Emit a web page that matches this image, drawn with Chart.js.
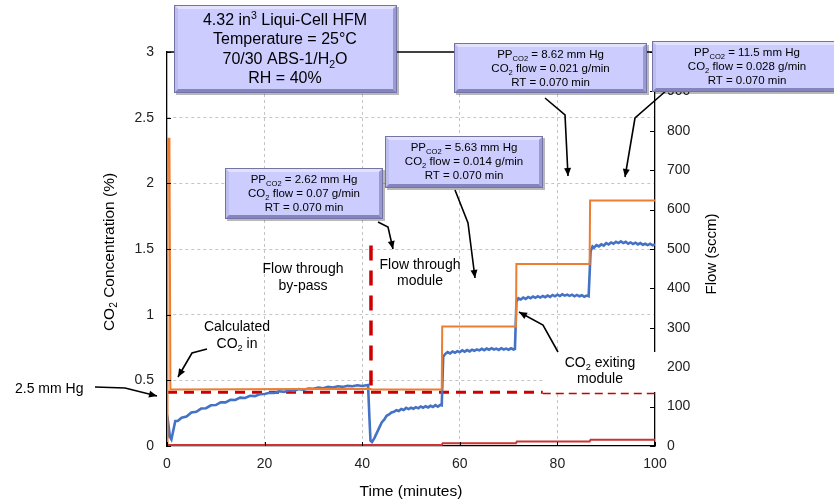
<!DOCTYPE html>
<html>
<head>
<meta charset="utf-8">
<script src="https://cdn.jsdelivr.net/npm/chart.js@4.4.0/dist/chart.umd.min.js"></script>
<style>
  html, body { margin: 0; padding: 0; background: #fff; }
  #wrap { width: 834px; height: 503px; }
</style>
</head>
<body>
<div id="wrap"><canvas id="chart" width="834" height="503"></canvas></div>
<script>
const FONT = '"Liberation Sans", Arial, sans-serif';

// axis ticks
const timeTicks  = [0, 20, 40, 60, 80, 100];
const concTicks  = ["0", "0.5", "1", "1.5", "2", "2.5", "3"];
const flowTicks  = ["0", "100", "200", "300", "400", "500", "600", "700", "800", "900", "1000"];

// series, [time (min), CO2 %]
const co2In = [
  [0, 0.02], [0.1, 2.34], [0.5, 2.34], [0.7, 0.43], [41.5, 0.435], [42, 0.43],
  [56.3, 0.43], [56.4, 0.91], [71.5, 0.91], [71.6, 1.385], [86.6, 1.385], [86.7, 1.87], [100, 1.87]
];
const co2Out = [
  [0, 0.06], [0.3, 0.16], [0.6, 0.07], [0.9, 0.05], [1.3, 0.12], [1.7, 0.19], [2.2, 0.19], [3, 0.215],
  [4, 0.225], [5, 0.255], [6, 0.26], [7, 0.285], [8, 0.288], [9, 0.31], [10, 0.312], [11, 0.333],
  [12, 0.332], [13, 0.352], [14, 0.35], [15, 0.368], [16, 0.366], [17, 0.383], [18, 0.38], [19, 0.394],
  [20, 0.396], [21, 0.405], [22, 0.404], [23, 0.417], [24, 0.412], [25, 0.424], [26, 0.42], [27, 0.433],
  [28, 0.428], [29, 0.438], [30, 0.436], [31, 0.444], [32, 0.44], [33, 0.45], [34, 0.446], [35, 0.455],
  [36, 0.45], [37, 0.458], [38, 0.455], [39, 0.462], [40, 0.457], [41.2, 0.465],
  [41.5, 0.2], [41.7, 0.04], [42, 0.03], [42.5, 0.06], [43, 0.1], [43.5, 0.14], [44, 0.18], [44.5, 0.2],
  [45, 0.23], [45.5, 0.24], [46, 0.255], [46.5, 0.26], [47, 0.272], [47.5, 0.266], [48, 0.281],
  [48.5, 0.274], [49, 0.29], [49.5, 0.281], [50, 0.291], [50.5, 0.284], [51, 0.296], [51.5, 0.287],
  [52, 0.301], [52.5, 0.292], [53, 0.303], [53.5, 0.294], [54, 0.306], [54.5, 0.297], [55, 0.311],
  [55.5, 0.3], [56, 0.313], [56.3, 0.31],
  [56.6, 0.68], [57, 0.7], [57.5, 0.715], [58, 0.705], [58.5, 0.72], [59, 0.71], [59.5, 0.722],
  [60, 0.715], [60.5, 0.728], [61, 0.718], [61.5, 0.73], [62, 0.72], [62.5, 0.733], [63, 0.725],
  [63.5, 0.735], [64, 0.728], [64.5, 0.74], [65, 0.73], [65.5, 0.742], [66, 0.733], [66.5, 0.745],
  [67, 0.735], [67.5, 0.742], [68, 0.732], [68.5, 0.745], [69, 0.735], [69.5, 0.742], [70, 0.733],
  [70.5, 0.744], [71, 0.735], [71.3, 0.74],
  [71.6, 1.1], [72, 1.125], [72.5, 1.115], [73, 1.13], [73.5, 1.12], [74, 1.135], [74.5, 1.125],
  [75, 1.138], [75.5, 1.128], [76, 1.14], [76.5, 1.13], [77, 1.142], [77.5, 1.133], [78, 1.145],
  [78.5, 1.135], [79, 1.15], [79.5, 1.14], [80, 1.152], [80.5, 1.142], [81, 1.155], [81.5, 1.145],
  [82, 1.153], [82.5, 1.143], [83, 1.152], [83.5, 1.14], [84, 1.15], [84.5, 1.14], [85, 1.148],
  [85.5, 1.137], [86, 1.145], [86.4, 1.14],
  [86.8, 1.48], [87.2, 1.52], [87.5, 1.51], [88, 1.53], [88.5, 1.52], [89, 1.535], [89.5, 1.525],
  [90, 1.545], [90.5, 1.535], [91, 1.55], [91.5, 1.54], [92, 1.555], [92.5, 1.545], [93, 1.558],
  [93.5, 1.545], [94, 1.555], [94.5, 1.54], [95, 1.55], [95.5, 1.538], [96, 1.548], [96.5, 1.535],
  [97, 1.545], [97.5, 1.532], [98, 1.54], [98.5, 1.53], [99, 1.54], [99.5, 1.528], [100, 1.535]
];
const bottomFlow = [
  [0, 0.008], [56.3, 0.008], [56.5, 0.021], [71.5, 0.021], [71.7, 0.034], [86.6, 0.034], [86.8, 0.047], [100, 0.047]
];
const pp25Thick = [[0, 0.41], [77, 0.41]];
const pp25Thin  = [[77, 0.40], [100, 0.40]];
const switchOver = [[41.8, 0.46], [41.8, 1.6]];

const pts = arr => arr.map(p => ({ x: p[0], y: p[1] }));

// text with _{sub} and ^{sup}
function rich(ctx, str, cx, cy, size, align) {
  const parts = [];
  const re = /([_^])\{([^}]*)\}|([^_^]+)/g;
  let m;
  while ((m = re.exec(str))) {
    if (m[3]) parts.push({ t: m[3], k: "" });
    else parts.push({ t: m[2], k: m[1] === "_" ? "sub" : "sup" });
  }
  let total = 0;
  parts.forEach(p => {
    p.s = p.k ? size * 0.66 : size;
    ctx.font = `${p.s}px ${FONT}`;
    p.w = ctx.measureText(p.t).width;
    total += p.w;
  });
  let x = align === "left" ? cx : cx - total / 2;
  ctx.textAlign = "left";
  ctx.textBaseline = "middle";
  parts.forEach(p => {
    ctx.font = `${p.s}px ${FONT}`;
    const dy = p.k === "sub" ? size * 0.3 : p.k === "sup" ? -size * 0.33 : 0;
    ctx.fillText(p.t, x, cy + dy);
    x += p.w;
  });
}

function bevelBox(ctx, x, y, w, h) {
  const b = 4;
  ctx.save();
  ctx.fillStyle = "rgba(0,0,0,0.28)";
  ctx.fillRect(x + 2, y + 2, w, h);
  ctx.fillStyle = "#ccccff";
  ctx.fillRect(x, y, w, h);
  const poly = (pts, c) => {
    ctx.fillStyle = c;
    ctx.beginPath();
    pts.forEach((p, i) => i ? ctx.lineTo(p[0], p[1]) : ctx.moveTo(p[0], p[1]));
    ctx.closePath();
    ctx.fill();
  };
  poly([[x, y], [x + w, y], [x + w - b, y + b], [x + b, y + b]], "#e2e2ff");
  poly([[x, y], [x + b, y + b], [x + b, y + h - b], [x, y + h]], "#bdbdf0");
  poly([[x + w, y], [x + w, y + h], [x + w - b, y + h - b], [x + w - b, y + b]], "#9a9ad2");
  poly([[x, y + h], [x + w, y + h], [x + w - b, y + h - b], [x + b, y + h - b]], "#8585bd");
  ctx.strokeStyle = "#7373a8";
  ctx.lineWidth = 1;
  ctx.strokeRect(x + 0.5, y + 0.5, w - 1, h - 1);
  ctx.restore();
}

function arrow(ctx, path) {
  ctx.save();
  ctx.strokeStyle = "#000";
  ctx.fillStyle = "#000";
  ctx.lineWidth = 1.6;
  ctx.beginPath();
  path.forEach((p, i) => i ? ctx.lineTo(p[0], p[1]) : ctx.moveTo(p[0], p[1]));
  ctx.stroke();
  const [x1, y1] = path[path.length - 2];
  const [x2, y2] = path[path.length - 1];
  const a = Math.atan2(y2 - y1, x2 - x1);
  const L = 8, W = 3.5;
  ctx.beginPath();
  ctx.moveTo(x2, y2);
  ctx.lineTo(x2 - L * Math.cos(a) + W * Math.sin(a), y2 - L * Math.sin(a) - W * Math.cos(a));
  ctx.lineTo(x2 - L * Math.cos(a) - W * Math.sin(a), y2 - L * Math.sin(a) + W * Math.cos(a));
  ctx.closePath();
  ctx.fill();
  ctx.restore();
}

const decor = {
  id: "decor",
  afterDraw(chart) {
    const ctx = chart.ctx;
    const { left, right, top, bottom } = chart.chartArea;
    const sx = chart.scales.x, sy = chart.scales.y, sf = chart.scales.y1;
    ctx.save();
    // frame top + inner tick marks
    ctx.strokeStyle = "#000";
    ctx.lineWidth = 1.3;
    ctx.beginPath();
    ctx.moveTo(left, top); ctx.lineTo(right, top);
    ctx.stroke();
    ctx.lineWidth = 1;
    ctx.beginPath();
    concTicks.forEach(t => { const py = Math.round(sy.getPixelForValue(+t)) + 0.5; ctx.moveTo(left, py); ctx.lineTo(left + 4, py); });
    flowTicks.forEach(t => { const py = Math.round(sf.getPixelForValue(+t)) + 0.5; ctx.moveTo(right - 5, py); ctx.lineTo(right, py); });
    timeTicks.forEach(t => { const px = Math.round(sx.getPixelForValue(t)) + 0.5; ctx.moveTo(px, bottom - 4); ctx.lineTo(px, bottom); });
    ctx.stroke();

    // white label patch
    ctx.fillStyle = "#fff";
    ctx.fillRect(543, 352, 120, 40);

    ctx.fillStyle = "#000";
    // axis titles
    rich(ctx, "Time (minutes)", (left + right) / 2, 492, 15.5);
    ctx.save();
    ctx.translate(110, 252); ctx.rotate(-Math.PI / 2);
    rich(ctx, "CO_{2} Concentration (%)", 0, 0, 15.5);
    ctx.restore();
    ctx.save();
    ctx.translate(712, 254); ctx.rotate(-Math.PI / 2);
    rich(ctx, "Flow (sccm)", 0, 0, 15);
    ctx.restore();

    // free labels
    rich(ctx, "Flow through", 303, 269, 14); rich(ctx, "by-pass", 303, 286, 14);
    rich(ctx, "Flow through", 420, 265, 14); rich(ctx, "module", 420, 281, 14);
    rich(ctx, "Calculated", 237, 327, 14); rich(ctx, "CO_{2} in", 237, 344, 14);
    rich(ctx, "CO_{2} exiting", 600, 363, 14); rich(ctx, "module", 600, 379, 14);
    rich(ctx, "2.5 mm Hg", 15, 389, 14, "left");

    // arrows
    arrow(ctx, [[95, 387], [125, 388], [157, 396]]);
    arrow(ctx, [[207, 349], [192, 353], [178, 377]]);
    arrow(ctx, [[378, 222], [388, 227], [393, 249]]);
    arrow(ctx, [[455, 190], [468, 223], [475, 278]]);
    arrow(ctx, [[545, 98], [565, 115], [568, 176]]);
    arrow(ctx, [[667, 90], [635, 118], [625, 177]]);
    arrow(ctx, [[558, 352], [543, 325], [519, 312]]);

    // boxes
    bevelBox(ctx, 174, 5, 223, 88);
    ctx.fillStyle = "#000";
    rich(ctx, "4.32 in^{3} Liqui-Cell HFM", 285, 21, 16);
    rich(ctx, "Temperature = 25°C", 285, 40, 16);
    rich(ctx, "70/30 ABS-1/H_{2}O", 285, 60, 16);
    rich(ctx, "RH = 40%", 285, 79, 16);

    const small = [
      [225, 168, 158, 51, "2.62 mm Hg", "0.07 g/min"],
      [385, 136, 158, 52, "5.63 mm Hg", "0.014 g/min"],
      [454, 43, 193, 50, "8.62 mm Hg", "0.021 g/min"],
      [652, 41, 190, 51, "11.5 mm Hg", "0.028 g/min"]
    ];
    small.forEach(([x, y, w, h, pp, fl]) => {
      bevelBox(ctx, x, y, w, h);
      ctx.fillStyle = "#000";
      const cx = x + Math.min(w, 834 - x) / 2 + (x > 600 ? 4 : 0);
      rich(ctx, "PP_{CO2} = " + pp, cx, y + 12, 11.5);
      rich(ctx, "CO_{2} flow = " + fl, cx, y + 26, 11.5);
      rich(ctx, "RT = 0.070 min", cx, y + 40, 11.5);
    });
    ctx.restore();
  }
};

const gridColor = (c, last) => (c.tick && (c.tick.value === 0 || c.tick.value === last)) ? "rgba(0,0,0,0)" : "#c4c4c4";

new Chart(document.getElementById("chart"), {
  type: "line",
  data: {
    datasets: [
      { data: pts(switchOver), borderColor: "#cc0000", borderWidth: 3.5, borderDash: [15, 10] },
      { data: pts(co2In), borderColor: "#ed7d31", borderWidth: 2 },
      { data: pts(co2Out), borderColor: "#4472c4", borderWidth: 2.6 },
      { data: pts(pp25Thick), borderColor: "#cc0000", borderWidth: 3, borderDash: [10, 7] },
      { data: pts(pp25Thin), borderColor: "#cc0000", borderWidth: 1.4, borderDash: [8, 5] },
      { data: pts(bottomFlow), borderColor: "#cc3333", borderWidth: 2 }
    ]
  },
  options: {
    responsive: false,
    animation: false,
    layout: { padding: { top: 52, left: 0, right: 0, bottom: 0 } },
    elements: { point: { radius: 0 }, line: { tension: 0 } },
    plugins: { legend: { display: false }, tooltip: { enabled: false } },
    scales: {
      x: {
        type: "linear", min: 0, max: 100,
        afterFit: s => { s.height = 57; },
        afterBuildTicks: s => { s.ticks = timeTicks.map(v => ({ value: v })); },
        ticks: { color: "#222", font: { family: FONT, size: 14 }, padding: 10, maxRotation: 0, autoSkip: false },
        grid: { color: c => gridColor(c, 100), drawTicks: false },
        border: { color: "#000", width: 1.3, dash: [3, 3] }
      },
      y: {
        position: "left", min: 0, max: 3,
        afterFit: s => { s.width = 167; },
        afterBuildTicks: s => { s.ticks = concTicks.map(v => ({ value: +v })); },
        ticks: { color: "#222", font: { family: FONT, size: 14 }, padding: 13, autoSkip: false,
                 callback: (v, i) => concTicks[i] },
        grid: { color: c => gridColor(c, 3), drawTicks: false },
        border: { color: "#000", width: 1.3, dash: [3, 3] }
      },
      y1: {
        position: "right", min: 0, max: 1000,
        afterFit: s => { s.width = 179; },
        afterBuildTicks: s => { s.ticks = flowTicks.map(v => ({ value: +v })); },
        ticks: { color: "#222", font: { family: FONT, size: 14 }, padding: 12, autoSkip: false,
                 callback: (v, i) => flowTicks[i] },
        grid: { display: false, drawTicks: false },
        border: { color: "#000", width: 1.3 }
      }
    }
  },
  plugins: [decor]
});
</script>
</body>
</html>
